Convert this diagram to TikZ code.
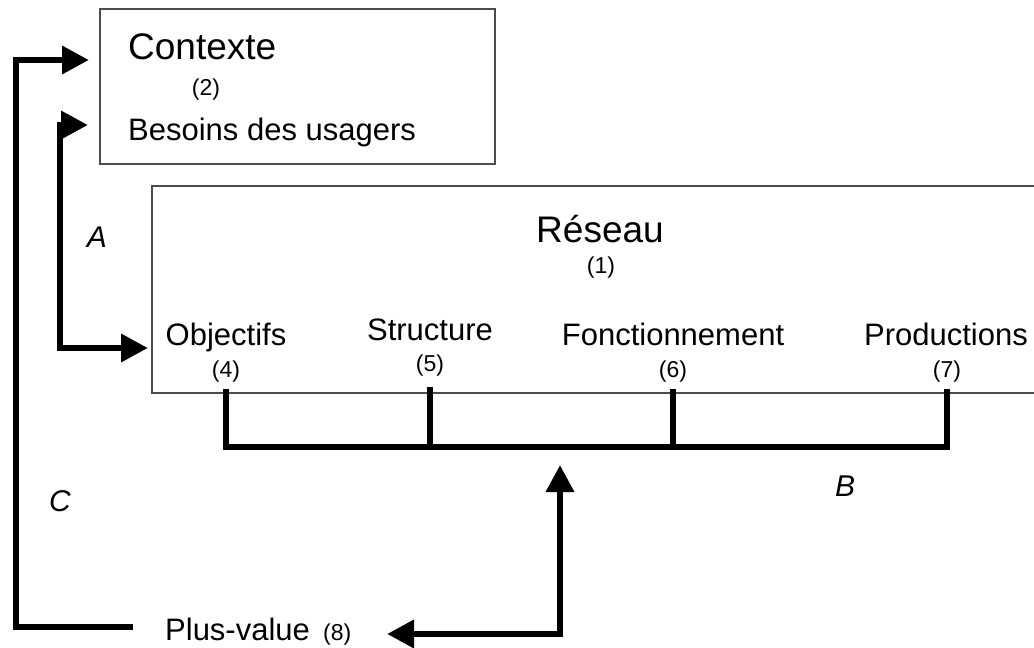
\documentclass[tikz,border=0pt]{standalone}
\usepackage{fontspec}
\setmainfont{Liberation Sans}
\usetikzlibrary{arrows.meta}
\begin{document}
\begin{tikzpicture}[x=1pt,y=-1pt,
  box/.style={draw=black!70,line width=1.2pt},
  conn/.style={line width=6.5pt,line join=miter,line cap=butt},
  tipend/.style={-{Triangle[length=27pt,width=27pt]}},
  tipboth/.style={{Triangle[length=27pt,width=27pt]}-{Triangle[length=27pt,width=27pt]}},
  lbl/.style={inner sep=0pt,font=\fontsize{31}{36}\selectfont},
  big/.style={inner sep=0pt,font=\fontsize{37}{42}\selectfont},
  num/.style={inner sep=0pt,font=\fontsize{23}{27}\selectfont},
  lettr/.style={inner sep=0pt,font=\fontsize{30}{34}\selectfont\itshape}]
\useasboundingbox (0,0) rectangle (1034,648);
% boxes
\draw[box] (100,9) rectangle (495,164);
\draw[box] (1040,186) -- (152,186) -- (152,393) -- (1040,393);
% context box texts
\node[big,anchor=base west] (ctx) at (128,59) {Contexte};
\node[num,anchor=base] (n2) at (206,95) {(2)};
\node[lbl,anchor=base west] (bes) at (128,140) {Besoins des usagers};
% network texts
\node[big,anchor=base] (res) at (600,242) {Réseau};
\node[num,anchor=base] (n1) at (601,273) {(1)};
\node[lbl,anchor=base] (obj) at (226,345) {Objectifs};
\node[num,anchor=base] (n4) at (226,377) {(4)};
\node[lbl,anchor=base] (str) at (430,340) {Structure};
\node[num,anchor=base] (n5) at (430,371) {(5)};
\node[lbl,anchor=base] (fon) at (673,345) {Fonctionnement};
\node[num,anchor=base] (n6) at (673,377) {(6)};
\node[lbl,anchor=base] (pro) at (946,345) {Productions};
\node[num,anchor=base] (n7) at (947,377) {(7)};
% plus-value
\node[lbl,anchor=base west] (plus) at (165,640) {Plus-value};
\node[num,anchor=base west] (n8) at (323,640) {(8)};
% letters
\node[lettr,anchor=base] (la) at (97,247) {A};
\node[lettr,anchor=base] (lb) at (845,496) {B};
\node[lettr,anchor=base] (lc) at (60,511) {C};
% coordinates
\coordinate (t4) at (226,389);
\coordinate (t5) at (430,387);
\coordinate (t6) at (673,389);
\coordinate (t7) at (947,389);
\coordinate (cStart) at (133,627);
\coordinate (cEnd) at (89,60);
\coordinate (aTop) at (88,125);
\coordinate (aBot) at (148,348);
\coordinate (bLeft) at (387,634);
\coordinate (bTop) at (560,465);
% connectors
\draw[conn] (t4) -- (t4 |- 0,447) -- (t7 |- 0,447) -- (t7);
\draw[conn] (t5) -- (t5 |- 0,447);
\draw[conn] (t6) -- (t6 |- 0,447);
\draw[conn,tipend] (cStart) -- (16,627) -- (16,60) -- (cEnd);
\draw[conn,tipboth] (aTop) -- (60,125) -- (60,348) -- (aBot);
\draw[conn,tipboth] (bLeft) -- (560,634) -- (bTop);
\end{tikzpicture}
\end{document}
